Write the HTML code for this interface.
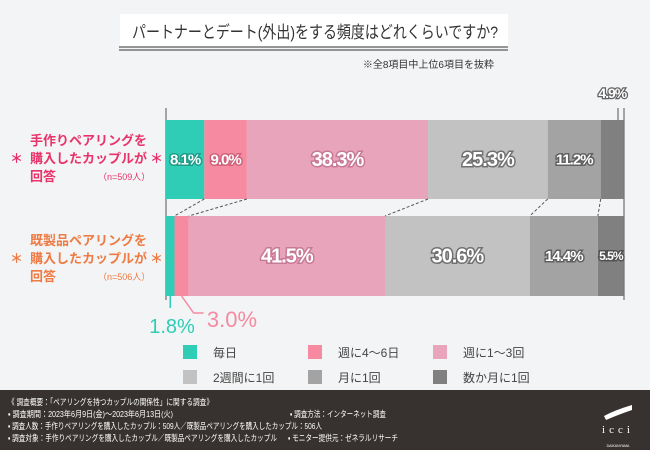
<!DOCTYPE html>
<html><head><meta charset="utf-8"><style>
body{margin:0;width:650px;height:450px;overflow:hidden;background:#f3f4f5;font-family:"Liberation Sans","Noto Sans CJK JP",sans-serif;}
svg{display:block}
</style></head><body>
<svg id="chart" width="650" height="450" xmlns="http://www.w3.org/2000/svg">
<rect width="650" height="450" fill="#f3f4f5"/>
<rect x="120" y="14" width="388" height="33" fill="#ffffff"/>
<text x="132" y="38" font-size="17" fill="#333" textLength="366" lengthAdjust="spacingAndGlyphs" font-family="Liberation Sans, Noto Sans CJK JP, sans-serif">パートナーとデート(外出)をする頻度はどれくらいですか?</text>
<line x1="119" y1="47" x2="508" y2="47" stroke="#333" stroke-width="1"/>
<line x1="119" y1="50" x2="508" y2="50" stroke="#333" stroke-width="1"/>
<text x="494" y="68" font-size="10" fill="#333" text-anchor="end" font-family="Liberation Sans, Noto Sans CJK JP, sans-serif">※全8項目中上位6項目を抜粋</text>
<line x1="166" y1="108" x2="166" y2="300" stroke="#555" stroke-width="1"/>
<line x1="624" y1="108" x2="624" y2="300" stroke="#555" stroke-width="1"/>
<g id="bars"></g>
<g font-family="Liberation Sans, Noto Sans CJK JP, sans-serif" font-size="13" font-weight="bold">
<text x="30" y="145" fill="#e8336a">手作りペアリングを</text>
<text x="10" y="163" fill="#e8336a">＊</text><text x="30" y="163" fill="#e8336a">購入したカップルが</text><text x="150" y="163" fill="#e8336a">＊</text>
<text x="30" y="181" fill="#e8336a">回答</text>
<text x="98" y="180" fill="#e8336a" font-size="9" font-weight="normal">（n=509人）</text>
<text x="30" y="245" fill="#ee7a44">既製品ペアリングを</text>
<text x="10" y="263" fill="#ee7a44">＊</text><text x="30" y="263" fill="#ee7a44">購入したカップルが</text><text x="150" y="263" fill="#ee7a44">＊</text>
<text x="30" y="281" fill="#ee7a44">回答</text>
<text x="98" y="280" fill="#ee7a44" font-size="9" font-weight="normal">（n=506人）</text>
</g>
<g id="legend" font-family="Liberation Sans, Noto Sans CJK JP, sans-serif" font-size="12" fill="#444"></g>
<rect x="0" y="390" width="650" height="60" fill="#37322f"/>
<g font-family="Liberation Sans, Noto Sans CJK JP, sans-serif" font-size="8.5" fill="#fff">
<text x="8" y="405" textLength="205" lengthAdjust="spacingAndGlyphs">《 調査概要：「ペアリングを持つカップルの関係性」に関する調査》</text>
<text x="8" y="417" textLength="165" lengthAdjust="spacingAndGlyphs">▪ 調査期間：2023年6月9日(金)〜2023年6月13日(火)</text>
<text x="290" y="417" textLength="96" lengthAdjust="spacingAndGlyphs">▪ 調査方法：インターネット調査</text>
<text x="8" y="429" textLength="314" lengthAdjust="spacingAndGlyphs">▪ 調査人数：手作りペアリングを購入したカップル：509人／既製品ペアリングを購入したカップル：506人</text>
<text x="8" y="441" textLength="269" lengthAdjust="spacingAndGlyphs">▪ 調査対象：手作りペアリングを購入したカップル／既製品ペアリングを購入したカップル</text>
<text x="288" y="441" textLength="110" lengthAdjust="spacingAndGlyphs">▪ モニター提供元：ゼネラルリサーチ</text>
</g>
<g>
<path d="M604 416 Q615 410 632 405 L632 410 Q620 414 606 420 Z" fill="#fff"/>
<text x="618" y="433" font-family="Liberation Serif, serif" font-size="11" fill="#fff" text-anchor="middle" letter-spacing="4">icci</text>
<text x="618" y="447" font-family="Liberation Sans, sans-serif" font-size="3.5" fill="#fff" text-anchor="middle">DAIKANYAMA</text>
</g>
</svg>
<script>
const categories=["毎日","週に4〜6日","週に1〜3回","2週間に1回","月に1回","数か月に1回"];
const group1=[8.1,9.0,38.3,25.3,11.2,4.9];
const group2=[1.8,3.0,41.5,30.6,14.4,5.5];
const colors=["#2fcdb5","#f58aa0","#e8a4bb","#c2c2c2","#a3a3a3","#808080"];
const strokes=["#1e9c89","#d0607a","#c77995","#707070","#606060","#505050"];
const NS="http://www.w3.org/2000/svg";
const x0=166, scale=4.73;
const xs=v=>x0+v*scale;
const bars=document.getElementById('bars');
function mk(t,a){const e=document.createElementNS(NS,t);for(const k in a)e.setAttribute(k,a[k]);return e;}
function drawBar(vals,y,h,gi){
  let c=0;const edges=[];
  vals.forEach((v,i)=>{
    const r=mk('rect',{x:xs(c),y:y,width:v*scale,height:h,fill:colors[i]});
    
    
    bars.appendChild(r);
    edges.push(xs(c+v));
    const w=v*scale;
    if(w>25){
      const fs=v>20?20:(w>35?15:12);
      const t=mk('text',{x:xs(c+v/2),y:y+h/2+fs/3,'text-anchor':'middle','font-size':fs,'font-weight':'bold',fill:'#fff',stroke:strokes[i],'stroke-width':3,'paint-order':'stroke','font-family':'Liberation Sans, sans-serif','letter-spacing':'-1'});
      t.textContent=v.toFixed(1)+'%';
      
      
      bars.appendChild(t);
    }
    c+=v;
  });
  return edges;
}
const e1=drawBar(group1,120,79,1);
const e2=drawBar(group2,216,80,2);
for(let i=0;i<5;i++){
  const l=mk('line',{x1:e1[i],y1:199,x2:e2[i],y2:216,stroke:'#555','stroke-width':1,'stroke-dasharray':'3,2'});
  bars.appendChild(l);
}
const t49=mk('text',{x:xs(group1[0]+group1[1]+group1[2]+group1[3]+group1[4]+group1[5]/2),y:98,'text-anchor':'middle','font-size':14,'font-weight':'bold',fill:'#fff',stroke:'#606060','stroke-width':2.5,'paint-order':'stroke','font-family':'Liberation Sans, sans-serif','letter-spacing':'-1'});
t49.textContent=group1[5].toFixed(1)+'%';


bars.appendChild(t49);
bars.appendChild(mk('line',{x1:618,y1:108,x2:618,y2:120,stroke:'#555'}));
const a=xs(group2[0]/2), b=xs(group2[0]+group2[1]/2);
bars.appendChild(mk('line',{x1:a,y1:296,x2:a,y2:308,stroke:colors[0],'stroke-width':1.5}));
bars.appendChild(mk('polyline',{points:`${b},296 ${b+12},313 ${b+22},313`,fill:'none',stroke:colors[1],'stroke-width':1.5}));
const l1=mk('text',{x:172,y:333,'text-anchor':'middle','font-size':20,fill:colors[0],'font-family':'Liberation Sans, sans-serif'});
l1.textContent=group2[0].toFixed(1)+'%';


bars.appendChild(l1);
const l2=mk('text',{x:232,y:327,'text-anchor':'middle','font-size':22,fill:colors[1],'font-family':'Liberation Sans, sans-serif'});
l2.textContent=group2[1].toFixed(1)+'%';


bars.appendChild(l2);
const lg=document.getElementById('legend');
categories.forEach((c,i)=>{
  const lx=183+(i%3)*125, ly=345+Math.floor(i/3)*25;
  const r=mk('rect',{x:lx,y:ly,width:14,height:14,fill:colors[i]});
  
  
  lg.appendChild(r);
  const t=mk('text',{x:lx+30,y:ly+12});
  t.textContent=c;
  
  
  lg.appendChild(t);
});
</script>
</body></html>
